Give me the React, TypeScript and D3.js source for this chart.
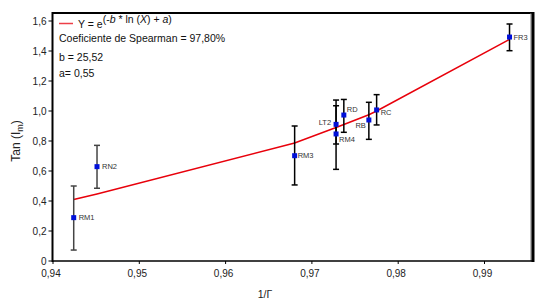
import React from "react";
import * as d3 from "d3";

const names = ["RM1", "RN2", "RM3", "LT2", "RM4", "RD", "RB", "RC", "FR3"];
const xVals = [0.9424, 0.9451, 0.968, 0.9728, 0.9728, 0.9737, 0.9766, 0.9775, 0.9929];
const yVals = [0.289, 0.629, 0.702, 0.911, 0.847, 0.973, 0.94, 1.007, 1.493];
const yUpper = [0.5, 0.771, 0.9, 1.035, 1.073, 1.077, 1.058, 1.109, 1.58];
const yLower = [0.073, 0.485, 0.507, 0.78, 0.611, 0.858, 0.811, 0.907, 1.402];

const fitX = [0.9424, 0.9451, 0.968, 0.9728, 0.9737, 0.9766, 0.9775, 0.9929];
const fitY = [0.41, 0.447, 0.787, 0.89, 0.91, 0.975, 1.0, 1.478];

const xTicks = [0.94, 0.95, 0.96, 0.97, 0.98, 0.99];
const yTicks = [0, 0.2, 0.4, 0.6, 0.8, 1.0, 1.2, 1.4, 1.6];

// label placement: [dx, dy, anchor]
const labelPos: [number, number, string][] = [
  [5, 0, "start"],
  [5, 0, "start"],
  [3, 0, "start"],
  [-5, -2, "end"],
  [3, 6, "start"],
  [3, -6, "start"],
  [-3, 5, "end"],
  [4, 3, "start"],
  [4, 0, "start"],
];

const W = 547;
const H = 302;

export default function App() {
  const x = d3.scaleLinear().domain([0.94, 0.99]).range([53, 484.5]);
  const y = d3.scaleLinear().domain([0, 1.6]).range([261, 21]);
  const left = 52.5;
  const right = 531;
  const top = 13;
  const bottom = 261;
  const fmt = (v: number) => d3.format(".2f")(v).replace(".", ",");
  const fmtY = (v: number) => d3.format(".1f")(v).replace(".", ",");
  const fmtX0 = (v: number) => (v === 0 ? "0" : fmtY(v));
  const line = d3
    .line<number>()
    .x((_, i) => x(fitX[i]))
    .y((d) => y(d));
  const font = "'Liberation Sans', Arial, sans-serif";

  return (
    <svg
      width={W}
      height={H}
      style={{ position: "fixed", left: 0, top: 0, background: "#fff" }}
      fontFamily={font}
    >
      <rect x={0} y={0} width={W} height={H} fill="#fff" />
      {/* frame */}
      <line x1={left} x2={right + 3} y1={top} y2={top} stroke="#000" strokeWidth={2} />
      <line x1={right} x2={right} y1={top} y2={bottom} stroke="#777" strokeWidth={1} />
      <line x1={right + 2} x2={right + 2} y1={top - 1} y2={bottom + 1} stroke="#000" strokeWidth={3} />
      <line x1={left} x2={right + 3} y1={bottom} y2={bottom} stroke="#000" strokeWidth={1.5} />
      <line x1={left} x2={left} y1={top - 1} y2={bottom + 1} stroke="#000" strokeWidth={2} />

      {/* y ticks */}
      {yTicks.map((t) => (
        <g key={"y" + t}>
          <line x1={left - 4} x2={left} y1={y(t)} y2={y(t)} stroke="#000" strokeWidth={1} />
          <text x={left - 6} y={y(t) + 3.5} fontSize={10} textAnchor="end" fill="#222">
            {fmtX0(t)}
          </text>
        </g>
      ))}
      {/* x ticks */}
      {xTicks.map((t) => (
        <g key={"x" + t}>
          <line x1={x(t)} x2={x(t)} y1={bottom} y2={bottom + 3} stroke="#000" strokeWidth={1} />
          <text x={x(t) - 2} y={bottom + 16} fontSize={10} textAnchor="middle" fill="#222">
            {fmt(t)}
          </text>
        </g>
      ))}

      {/* axis titles */}
      <text x={265} y={298} fontSize={10.5} textAnchor="middle" fill="#222">
        1/Γ
      </text>
      <text transform="translate(20,141) rotate(-90)" fontSize={12} textAnchor="middle" fill="#222">
        Tan (I<tspan fontSize={9} dy={3}>m</tspan>
        <tspan dy={-3}>)</tspan>
      </text>

      {/* fit line */}
      <path d={line(fitY) || ""} fill="none" stroke="#e8000b" strokeWidth={1.5} />

      {/* error bars */}
      {names.map((n, i) => {
        const cx = x(xVals[i]);
        const col = i < 2 ? "#444" : "#000";
        return (
          <g key={"e" + n} stroke={col} strokeWidth={1.5}>
            <line x1={cx} x2={cx} y1={y(yUpper[i])} y2={y(yLower[i])} />
            <line x1={cx - 3} x2={cx + 3} y1={y(yUpper[i])} y2={y(yUpper[i])} />
            <line x1={cx - 3} x2={cx + 3} y1={y(yLower[i])} y2={y(yLower[i])} />
          </g>
        );
      })}

      {/* markers and labels */}
      {names.map((n, i) => {
        const cx = x(xVals[i]);
        const cy = y(yVals[i]);
        const [dx, dy, anchor] = labelPos[i];
        return (
          <g key={"m" + n}>
            <rect x={cx - 2.5} y={cy - 2.5} width={5} height={5} fill="#0010d8" />
            <text
              x={cx + dx}
              y={cy + dy + 2.5}
              fontSize={7.5}
              textAnchor={anchor as any}
              fill="#333"
            >
              {n}
            </text>
          </g>
        );
      })}

      {/* legend */}
      <line x1={59} x2={73} y1={23.5} y2={23.5} stroke="#e8000b" strokeWidth={1.5} opacity={0.75} />
      <text x={78} y={28} fontSize={10.5} fill="#111">
        Y = e
        <tspan dy={-5} fontSize={10.5}>
          {"("}-<tspan fontStyle="italic">b</tspan> * ln (<tspan fontStyle="italic">X</tspan>) + <tspan fontStyle="italic">a</tspan>)
        </tspan>
      </text>
      <text x={59} y={42} fontSize={10.5} fill="#111">
        Coeficiente de Spearman = 97,80%
      </text>
      <text x={59} y={61} fontSize={10.5} fill="#111">
        b = 25,52
      </text>
      <text x={59} y={77} fontSize={10.5} fill="#111">
        a= 0,55
      </text>
    </svg>
  );
}
